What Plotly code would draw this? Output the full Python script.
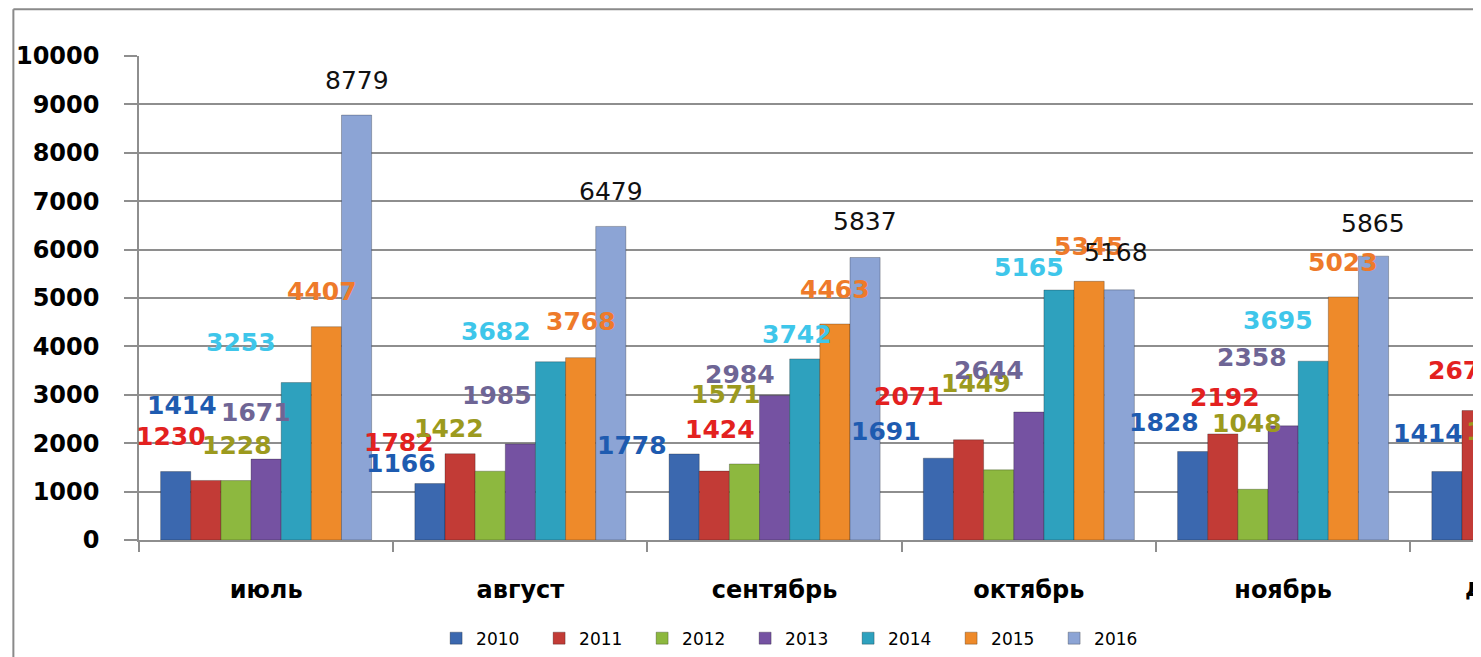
import plotly.graph_objects as go

months = ['июль', 'август', 'сентябрь', 'октябрь', 'ноябрь', 'декабрь']
years = ['2010', '2011', '2012', '2013', '2014', '2015', '2016']

v2010 = [1414, 1166, 1778, 1691, 1828, 1414]
v2011 = [1230, 1782, 1424, 2071, 2192, 2675]
v2012 = [1228, 1422, 1571, 1449, 1048, 1500]
v2013 = [1671, 1985, 2984, 2644, 2358, 3300]
v2014 = [3253, 3682, 3742, 5165, 3695, 5120]
v2015 = [4407, 3768, 4463, 5345, 5023, None]
v2016 = [8779, 6479, 5837, 5168, 5865, None]
series = [v2010, v2011, v2012, v2013, v2014, v2015, v2016]

bar_colors = ['#3B68AF', '#C23B36', '#8DB83F', '#7552A2', '#2EA1BE', '#EE8A2A', '#8CA4D5']
label_colors = ['#1E5BB0', '#E3211F', '#9C9A1E', '#6E6595', '#3EC6EA', '#EE7A2A', '#111111']

# label shifts in px from the bar top (dx, dy), by year then month
label_shift = [
    [(6, -66), (-29, -20), (-52, -8), (-52, -27), (-29, -29), (-19, -38)],
    [(-35, -44), (-61, -11), (6, -42), (-60, -43), (2, -36), (-14, -40)],
    [(1, -35), (-41, -43), (-18, -69), (-23, -86), (-6, -66), (-6, -36)],
    [(-10, -47), (-23, -48), (-35, -21), (-40, -42), (-31, -68), (-27, -45)],
    [(-55, -40), (-55, -30), (-8, -24), (-30, -23), (-35, -41), (-60, -30)],
    [(-4, -35), (0, -36), (0, -34), (0, -35), (0, -34), (0, -35)],
    [(0, -35), (0, -35), (0, -36), (-3, -37), (-1, -33), (0, -35)],
]

# the page body adds 8px, so the figure is laid out 8px up and left
W, H = 1481, 657
ml, mr, mt, mb = 127, 8, 48, 123
pw = W - ml - mr
ph = H - mt - mb
cat_px = 255
xmin = -0.5
xmax = xmin + pw / cat_px
bargap = 0.17
grid = '#8E8E8E'

fig = go.Figure()
for yr, vals, col in zip(years, series, bar_colors):
    fig.add_trace(go.Bar(x=months, y=vals, name=yr, marker_color=col,
                         marker_line=dict(color='rgba(0,0,0,0.25)', width=1)))

bw = (1 - bargap) / len(years)
for i, vals in enumerate(series):
    for c, v in enumerate(vals):
        if v is None:
            continue
        bx = c - (1 - bargap) / 2 + (i + 0.5) * bw
        dx, dy = label_shift[i][c]
        extra = 0
        if bx > xmax - 0.01:
            extra = (bx - (xmax - 0.01)) * cat_px
            bx = xmax - 0.01
        bold = i < 6
        fig.add_annotation(x=bx, y=v, text=str(v), showarrow=False,
                           xanchor='center', yanchor='middle',
                           xshift=dx + extra, yshift=-dy,
                           font=dict(family='DejaVu Sans', size=25,
                                     color=label_colors[i],
                                     weight='bold' if bold else 'normal'))

# partly visible december label at the cut edge
fig.add_annotation(xref='paper', yref='paper', x=1, y=0, text=months[-1], showarrow=False,
                   xanchor='left', yanchor='middle', xshift=-18, yshift=-48,
                   font=dict(family='DejaVu Sans', size=24, color='black', weight='bold'))

# chart border
bx0 = (1 - ml) / pw
by0 = (H - mb - 1) / ph
fig.add_shape(type='line', xref='paper', yref='paper', x0=bx0, x1=bx0,
              y0=by0, y1=-mb / ph, line=dict(color='#8A8A8A', width=2))
fig.add_shape(type='line', xref='paper', yref='paper', x0=bx0, x1=(W - ml) / pw,
              y0=by0, y1=by0, line=dict(color='#8A8A8A', width=2))

fig.update_layout(
    width=W, height=H,
    margin=dict(l=ml, r=mr, t=mt, b=mb),
    paper_bgcolor='white', plot_bgcolor='white',
    barmode='group', bargap=bargap, bargroupgap=0,
    font=dict(family='DejaVu Sans', color='black'),
    legend=dict(orientation='h', x=(425 - ml) / pw, xanchor='left',
                y=(H - mb - 633) / ph, yanchor='middle',
                entrywidth=58, entrywidthmode='pixels',
                font=dict(family='DejaVu Sans', size=17, color='black')),
    showlegend=True,
)
fig.update_xaxes(type='category', range=[xmin, xmax], tickson='boundaries',
                 ticks='outside', ticklen=10, tickcolor=grid, tickwidth=1.5,
                 showline=True, linecolor=grid, linewidth=1.5, showgrid=False,
                 ticklabelstandoff=27,
                 tickfont=dict(family='DejaVu Sans', size=24, color='black', weight='bold'))
fig.update_yaxes(range=[0, 10000], dtick=1000, tickformat='d',
                 showgrid=True, gridcolor=grid, gridwidth=1.5,
                 ticks='outside', ticklen=13, tickcolor=grid, tickwidth=1.5,
                 showline=True, linecolor=grid, linewidth=1.5, zeroline=False,
                 ticklabelstandoff=20,
                 tickfont=dict(family='DejaVu Sans', size=24, color='black', weight='bold'))

fig.write_html('out.html')
